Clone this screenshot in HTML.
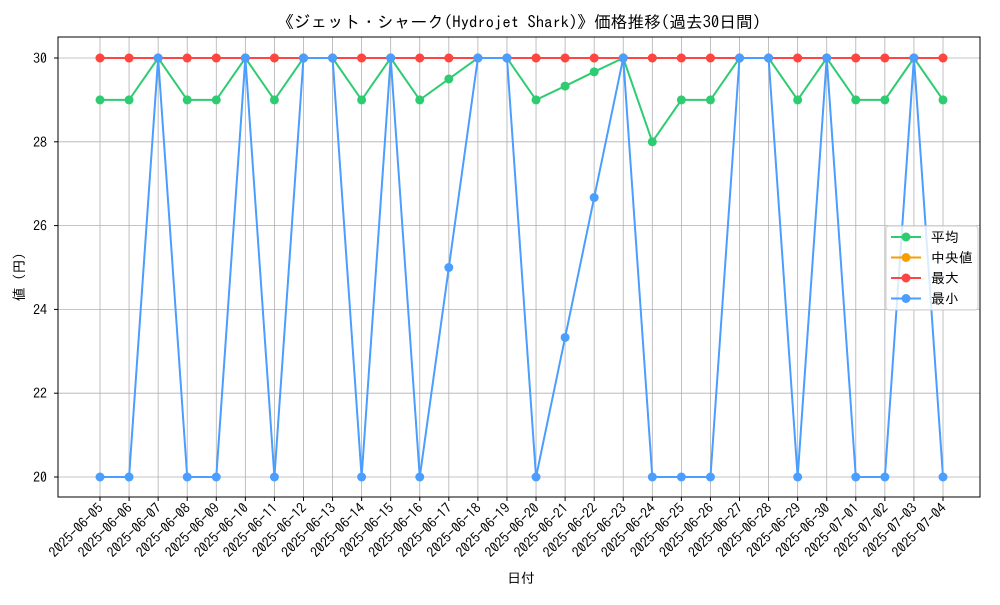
<!DOCTYPE html>
<html><head><meta charset="utf-8">
<style>
html,body{margin:0;padding:0;background:#fff;}
svg text{font-family:"IPAGothic","Liberation Sans","Noto Sans CJK JP",sans-serif;fill:#000;}
</style></head>
<body>
<svg id="chart" width="1000" height="600" xmlns="http://www.w3.org/2000/svg">
<text x="519" y="28" font-size="16.7" text-anchor="middle">《ジェット・シャーク(Hydrojet Shark)》価格推移(過去30日間)</text>
<g id="grid"></g>
<g id="axes"></g>
<g id="series"></g>
<text x="521" y="583" font-size="13.9" text-anchor="middle">日付</text>
<text x="24" y="277" font-size="13.9" text-anchor="middle" transform="rotate(-90 24 277)">値 (円)</text>
<g id="legend"></g>
</svg>
<script>
const categories=["2025-06-05","2025-06-06","2025-06-07","2025-06-08","2025-06-09","2025-06-10","2025-06-11","2025-06-12","2025-06-13","2025-06-14","2025-06-15","2025-06-16","2025-06-17","2025-06-18","2025-06-19","2025-06-20","2025-06-21","2025-06-22","2025-06-23","2025-06-24","2025-06-25","2025-06-26","2025-06-27","2025-06-28","2025-06-29","2025-06-30","2025-07-01","2025-07-02","2025-07-03","2025-07-04"];
const avgValues=[29,29,30,29,29,30,29,30,30,29,30,29,29.5,30,30,29,29.33,29.67,30,28,29,29,30,30,29,30,29,29,30,29];
const medianValues=[30,30,30,30,30,30,30,30,30,30,30,30,30,30,30,30,30,30,30,30,30,30,30,30,30,30,30,30,30,30];
const maxValues=[30,30,30,30,30,30,30,30,30,30,30,30,30,30,30,30,30,30,30,30,30,30,30,30,30,30,30,30,30,30];
const minValues=[20,20,30,20,20,30,20,30,30,20,30,20,25,30,30,20,23.33,26.67,30,20,20,20,30,30,20,30,20,20,30,20];
const yTicks=[20,22,24,26,28,30];
const seriesNames=["平均","中央値","最大","最小"];
const colors=["#2ecc71","#f5a000","#ff4444","#4a9eff"];

const NS="http://www.w3.org/2000/svg";
const L=58,R=980,T=37,B=497;
const xScale=i=>100+i*(943-100)/(categories.length-1);
const yScale=v=>477-(v-20)*(477-58)/10;
function mk(tag,attrs,parent){const e=document.createElementNS(NS,tag);for(const k in attrs)e.setAttribute(k,attrs[k]);parent.appendChild(e);return e;}
const grid=document.getElementById('grid'),axes=document.getElementById('axes'),ser=document.getElementById('series'),leg=document.getElementById('legend');

categories.forEach((c,i)=>{
  const x=xScale(i);
  const g=mk('line',{x1:x,x2:x,y1:T,y2:B,stroke:'#b0b0b0','stroke-width':0.8},grid);
  
  
  const tk=mk('line',{x1:x,x2:x,y1:B,y2:B+4,stroke:'#000'},axes);
  
  
  const t=mk('text',{x:x+4,y:B+12,'font-size':13.9,'text-anchor':'end',transform:`rotate(-45 ${x+4} ${B+12})`},axes);
  t.textContent=c;
  
  
});
yTicks.forEach(v=>{
  const y=yScale(v);
  const g=mk('line',{x1:L,x2:R,y1:y,y2:y,stroke:'#b0b0b0','stroke-width':0.8},grid);
  
  
  const tk=mk('line',{x1:L-4,x2:L,y1:y,y2:y,stroke:'#000'},axes);
  
  
  const t=mk('text',{x:L-11,y:y+5,'font-size':13.9,'text-anchor':'end'},axes);
  t.textContent=v;
  
  
});
const frame=mk('rect',{x:L,y:T,width:R-L,height:B-T,fill:'none',stroke:'#000','stroke-width':1},axes);



[avgValues,medianValues,maxValues,minValues].forEach((vals,s)=>{
  const g=mk('g',{},ser);
  
  
  const pl=mk('polyline',{points:vals.map((v,i)=>xScale(i)+','+yScale(v)).join(' '),fill:'none',stroke:colors[s],'stroke-width':2},g);
  
  
  vals.forEach((v,i)=>{
    const c=mk('circle',{cx:xScale(i),cy:yScale(v),r:4.5,fill:colors[s]},g);
    
    
  });
});

const lb=mk('rect',{x:886,y:226,width:92,height:84,rx:3,fill:'#fff','fill-opacity':0.8,stroke:'#ccc'},leg);


seriesNames.forEach((n,s)=>{
  const y=237+s*20.5;
  const g=mk('g',{},leg);
  
  
  mk('line',{x1:891,x2:921,y1:y,y2:y,stroke:colors[s],'stroke-width':2},g);
  mk('circle',{cx:906,cy:y,r:4.5,fill:colors[s]},g);
  const t=mk('text',{x:931,y:y+5,'font-size':13.9},g);
  t.textContent=n;
});
</script>
</body></html>
